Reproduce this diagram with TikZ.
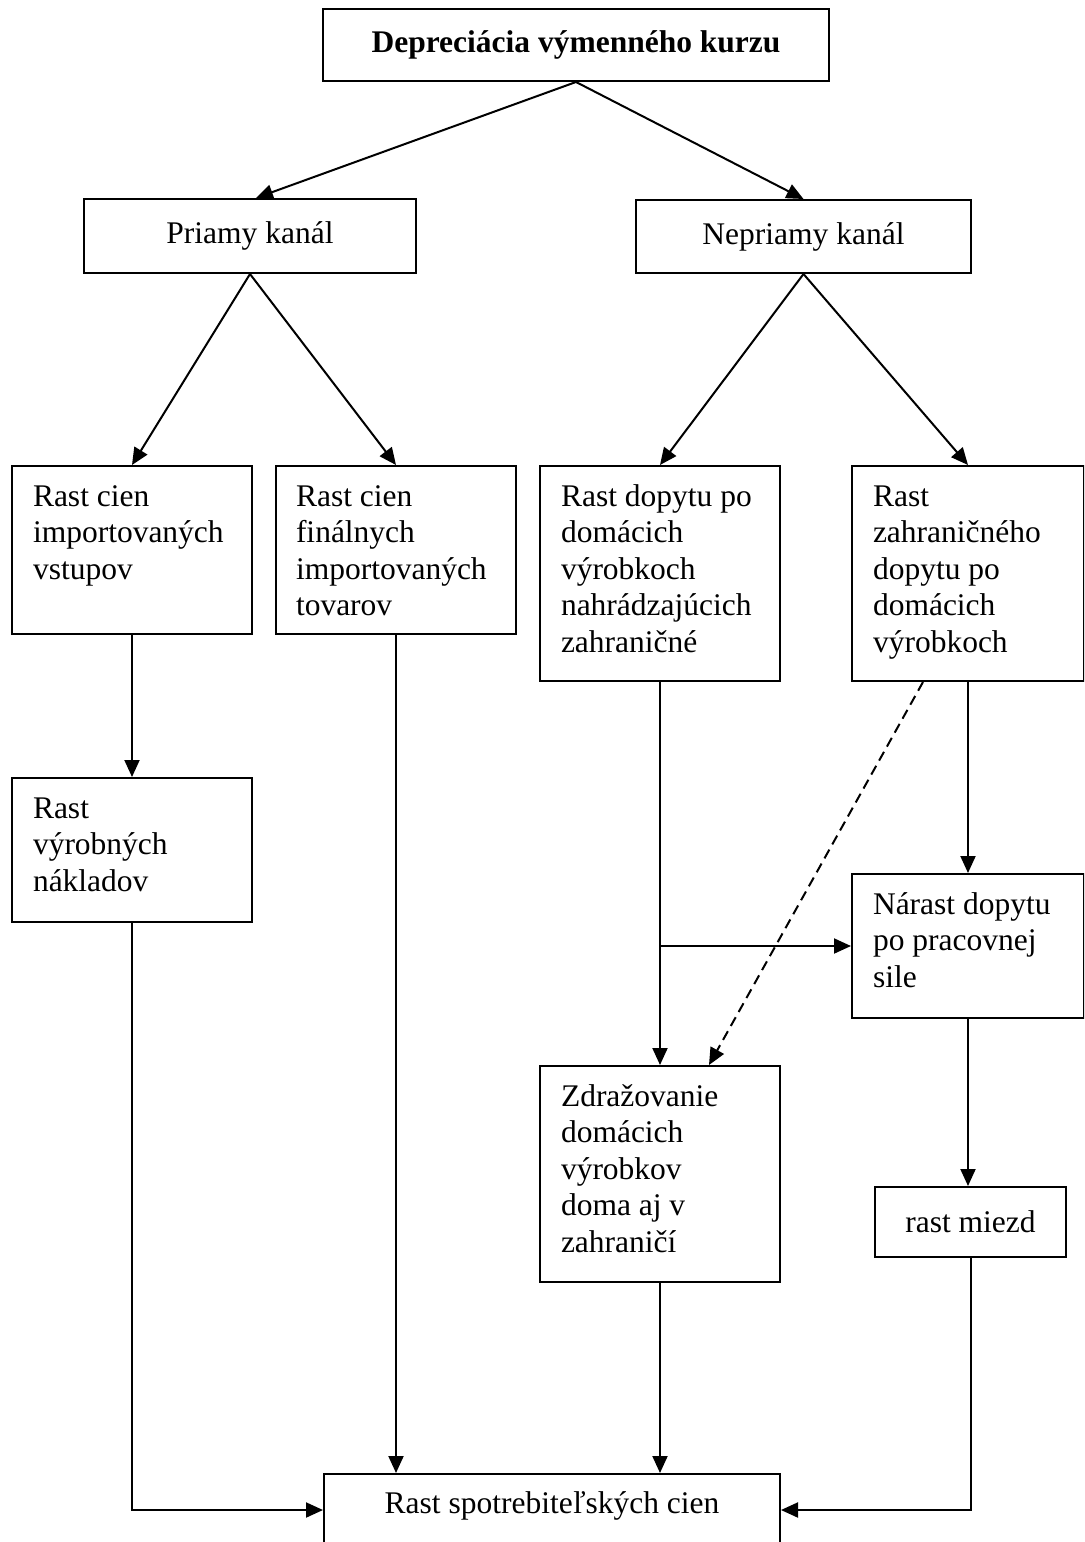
\documentclass[tikz,border=0pt]{standalone}
\usepackage{fontspec}
\setmainfont{Liberation Serif}
\usetikzlibrary{arrows.meta,calc}
\begin{document}
\begin{tikzpicture}[x=0.5pt,y=-0.5pt,
  line width=1pt,
  box/.style={draw, line width=1pt, inner sep=0pt, anchor=north west},
  cfont/.style={font=\fontsize{15.75}{18.25}\selectfont},
  ltext/.style={font=\fontsize{15.75}{18.25}\selectfont, inner sep=0pt, align=left, anchor=north west},
  arr/.style={-{Triangle[length=8.5pt,width=7.5pt]}},
  dasharr/.style={arr, dash pattern=on 5pt off 3pt},
]
\useasboundingbox (0,0) rectangle (1084,1542);
\begin{scope}
\clip (0,0) rectangle (1084,1542);
% boxes
\node[box, cfont, minimum width=253pt, minimum height=36pt] (T) at (322,8) {\textbf{Depreciácia výmenného kurzu}};
\node[box, cfont, minimum width=166pt, minimum height=37pt] (P) at (83,198) {Priamy kanál};
\node[box, cfont, minimum width=167.5pt, minimum height=36.5pt] (Q) at (635,199) {Nepriamy kanál};
\node[box, minimum width=120pt, minimum height=84pt] (A) at (11,465) {};
\node[box, minimum width=120pt, minimum height=84pt] (B) at (275,465) {};
\node[box, minimum width=120pt, minimum height=107.5pt] (C) at (539,465) {};
\node[box, minimum width=116pt, minimum height=107.5pt] (D) at (851,465) {};
\node[box, minimum width=120pt, minimum height=72pt] (V) at (11,777) {};
\node[box, minimum width=116pt, minimum height=72pt] (N) at (851,873) {};
\node[box, minimum width=120pt, minimum height=108pt] (Z) at (539,1065) {};
\node[box, cfont, minimum width=95.5pt, minimum height=35pt] (M) at (874,1186) {rast miezd};
\node[box, minimum width=228pt, minimum height=36pt] (F) at (323,1473) {};
% texts
\node[ltext] (At) at (32,481) {\rule{0pt}{12pt}Rast cien\\importovaných\\vstupov};
\node[ltext] (Bt) at (295,481) {\rule{0pt}{12pt}Rast cien\\finálnych\\importovaných\\tovarov};
\node[ltext] (Ct) at (560,481) {\rule{0pt}{12pt}Rast dopytu po\\domácich\\výrobkoch\\nahrádzajúcich\\zahraničné};
\node[ltext] (Dt) at (872,481) {\rule{0pt}{12pt}Rast\\zahraničného\\dopytu po\\domácich\\výrobkoch};
\node[ltext] (Vt) at (32,793) {\rule{0pt}{12pt}Rast\\výrobných\\nákladov};
\node[ltext] (Nt) at (872,889) {\rule{0pt}{12pt}Nárast dopytu\\po pracovnej\\sile};
\node[ltext] (Zt) at (560,1081) {\rule{0pt}{12pt}Zdražovanie\\domácich\\výrobkov\\doma aj v\\zahraničí};
\node[cfont, inner sep=0pt, anchor=base] (Ft) at ($(F.north)+(0,40)$) {Rast spotrebiteľských cien};
% connectors
\draw[arr] (T.south) -- ($(P.north)+(6,0)$);
\draw[arr] (T.south) -- (Q.north);
\draw[arr] (P.south) -- (A.north);
\draw[arr] (P.south) -- (B.north);
\draw[arr] (Q.south) -- (C.north);
\draw[arr] (Q.south) -- (D.north);
\draw[arr] (A.south) -- (V.north);
\draw[arr] (B.south) -- (B.south |- F.north);
\draw[arr] (C.south) -- (C.south |- Z.north);
\draw[arr] (C.south |- N.west) -- (N.west);
\draw[arr] (D.south) -- (N.north);
\draw[dasharr] ($(D.south)+(-45,0)$) -- ($(Z.north)+(49,0)$);
\draw[arr] (N.south) -- (N.south |- M.north);
\draw[arr] (Z.south) -- (Z.south |- F.north);
\draw[arr] (V.south) |- (F.west);
\draw[arr] (M.south) |- (F.east);
\end{scope}
\end{tikzpicture}
\end{document}
